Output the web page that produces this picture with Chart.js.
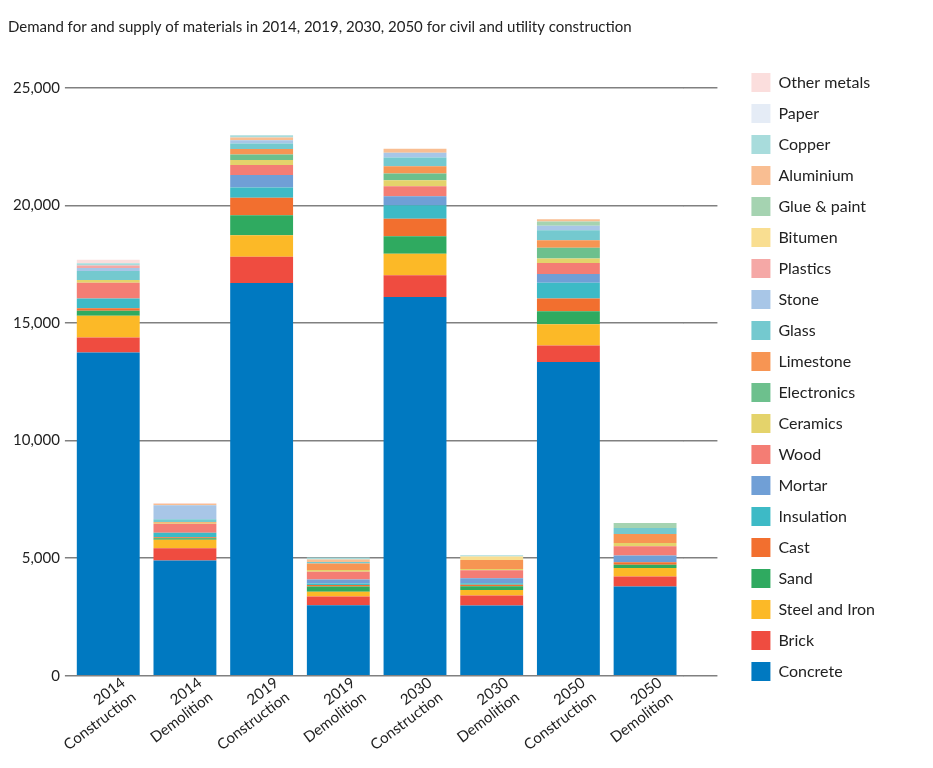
<!DOCTYPE html>
<html>
<head>
<meta charset="utf-8">
<script src="https://cdn.jsdelivr.net/npm/chart.js@4/dist/chart.umd.min.js"></script>
<style>
  html, body { margin: 0; padding: 0; background: #fff; }
  #wrap { width: 933px; height: 768px; position: relative; }
</style>
</head>
<body>
<div id="wrap"><canvas id="c"></canvas></div>
<script>
const categories = [
  ["2014", "Construction"], ["2014", "Demolition"],
  ["2019", "Construction"], ["2019", "Demolition"],
  ["2030", "Construction"], ["2030", "Demolition"],
  ["2050", "Construction"], ["2050", "Demolition"]
];
const titleText = "Demand for and supply of materials in 2014, 2019, 2030, 2050 for civil and utility construction";
const yTicks = [0, 5000, 10000, 15000, 20000, 25000];

// series (bottom of stack first)
const concrete    = [13750, 4900, 16700, 3000, 16110, 2980, 13340, 3790];
const brick       = [640, 525, 1120, 370, 920, 425, 710, 425];
const steelIron   = [920, 355, 920, 200, 920, 240, 895, 370];
const sand        = [210, 70, 850, 225, 740, 155, 555, 130];
const cast        = [110, 40, 740, 60, 750, 70, 540, 110];
const insulation  = [410, 185, 440, 70, 570, 60, 680, 0];
const mortar      = [0, 0, 525, 170, 385, 210, 370, 285];
const wood        = [680, 385, 425, 325, 425, 340, 470, 395];
const ceramics    = [115, 40, 213, 70, 255, 60, 185, 140];
const electronics = [0, 0, 240, 0, 285, 0, 455, 0];
const limestone   = [0, 40, 227, 285, 310, 385, 325, 385];
const glass       = [380, 110, 240, 60, 370, 0, 425, 255];
const stone       = [130, 600, 140, 0, 210, 0, 185, 0];
const plastics    = [100, 0, 0, 0, 0, 0, 0, 0];
const bitumen     = [0, 0, 0, 0, 0, 140, 0, 0];
const gluePaint   = [0, 0, 0, 0, 0, 0, 185, 210];
const aluminium   = [0, 60, 110, 110, 170, 0, 100, 0];
const copper      = [100, 0, 100, 80, 0, 60, 0, 0];
const paper       = [0, 0, 0, 0, 0, 0, 0, 0];
const otherMetals = [150, 40, 0, 0, 0, 0, 0, 0];

const seriesNames = ["Concrete","Brick","Steel and Iron","Sand","Cast","Insulation","Mortar","Wood","Ceramics","Electronics","Limestone","Glass","Stone","Plastics","Bitumen","Glue & paint","Aluminium","Copper","Paper","Other metals"];
const seriesValues = [concrete,brick,steelIron,sand,cast,insulation,mortar,wood,ceramics,electronics,limestone,glass,stone,plastics,bitumen,gluePaint,aluminium,copper,paper,otherMetals];
const seriesColors = ["#0079c1","#ef4c40","#fcb927","#2faa60","#f26f2f","#3dbac6","#709fd6","#f47d74","#e4d36b","#6dc08d","#f79553","#74c9cf","#a8c6e7","#f5a8a6","#f9de91","#a5d3b1","#f9be92","#a8dcdc","#e5ecf6","#fbdedd"];

const FONT = "Lato, 'Open Sans', sans-serif";
const TEXT = "#222222";
const GRID = "#808080";

const datasets = seriesNames.map((n, i) => ({
  label: n,
  data: seriesValues[i],
  backgroundColor: seriesColors[i],
  borderWidth: 0,
  yAxisID: 'y'
}));

new Chart(document.getElementById('c'), {
  type: 'bar',
  data: { labels: categories, datasets },
  options: {
    responsive: true,
    maintainAspectRatio: false,
    animation: false,
    layout: { padding: { left: 8, right: 48, top: 0, bottom: 0 } },
    datasets: { bar: { categoryPercentage: 1.0, barPercentage: 0.82 } },
    plugins: {
      title: {
        display: true, text: titleText, align: 'start', color: TEXT,
        font: { family: FONT, size: 15, weight: 'normal' },
        padding: { top: 18, bottom: 52 }
      },
      legend: {
        position: 'right', align: 'start', reverse: true,
        title: { display: true, text: '', font: { size: 10 }, padding: { top: 49, bottom: 0 } },
        labels: {
          boxWidth: 19, boxHeight: 19, padding: 12, color: TEXT,
          font: { family: FONT, size: 16 }
        }
      },
      tooltip: { enabled: false }
    },
    scales: {
      x: {
        stacked: true,
        afterFit: s => { s.height = s.height + 16; },
        grid: { display: false, drawTicks: false },
        border: { display: false },
        ticks: {
          color: TEXT, font: { family: FONT, size: 15 },
          maxRotation: 37, minRotation: 37, labelOffset: 15, padding: -2, autoSkip: false
        }
      },
      y: {
        stacked: true, min: 0, max: 25000,
        afterBuildTicks: s => { s.ticks = yTicks.map(v => ({ value: v })); },
        grid: { color: GRID, lineWidth: 1.5, tickLength: 5 },
        border: { display: false },
        ticks: {
          color: TEXT, font: { family: FONT, size: 15 }, padding: 5,
          callback: v => Number(v).toLocaleString('en-US')
        }
      },
      yr: {
        position: 'right', min: 0, max: 25000,
        afterBuildTicks: s => { s.ticks = yTicks.map(v => ({ value: v })); },
        afterFit: s => { s.width = 56; },
        grid: { color: GRID, lineWidth: 1.5, tickLength: 34, drawOnChartArea: false },
        border: { display: false },
        ticks: { display: false }
      }
    }
  }
});
</script>
</body>
</html>
